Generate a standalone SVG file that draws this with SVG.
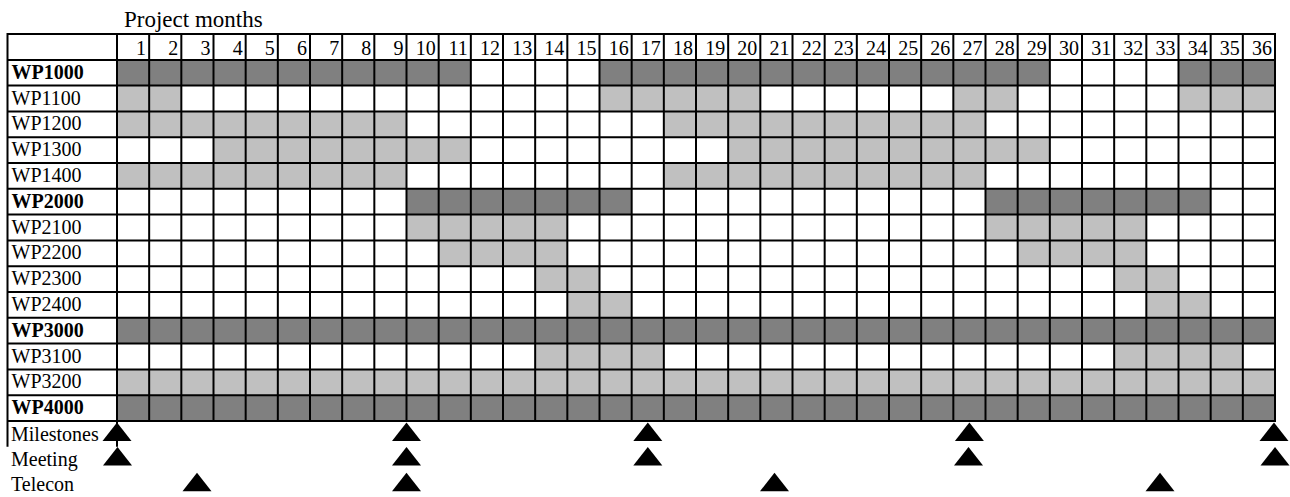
<svg xmlns="http://www.w3.org/2000/svg" width="1290" height="497" viewBox="0 0 1290 497">
<style>
text{font-family:"Liberation Serif","Times New Roman",serif;fill:#000}
.t{font-size:23px}
.n{font-size:20px;text-anchor:end}
.l{font-size:20px}
.b{font-weight:bold}
.d{fill:#808080}
.g{fill:#c0c0c0}
.grid{stroke:#000;stroke-width:2;fill:none}
</style>
<defs>
<path id="tri" d="M0,0 L14.5,18.5 L-14.5,18.5 Z" fill="#000"/>
</defs>
<rect width="1290" height="497" fill="#fff"/>
<text class="t" x="124" y="27">Project months</text>

<g id="fills">
<g id="r-WP1000" class="d"><rect x="117" y="60" width="353.83" height="25.6"/><rect x="599.5" y="60" width="450.33" height="25.6"/><rect x="1178.5" y="60" width="96.5" height="25.6"/></g>
<g id="r-WP1100" class="g"><rect x="117" y="85.6" width="64.33" height="25.8"/><rect x="599.5" y="85.6" width="160.83" height="25.8"/><rect x="953.33" y="85.6" width="64.33" height="25.8"/><rect x="1178.5" y="85.6" width="96.5" height="25.8"/></g>
<g id="r-WP1200" class="g"><rect x="117" y="111.4" width="289.5" height="25.8"/><rect x="663.83" y="111.4" width="321.67" height="25.8"/></g>
<g id="r-WP1300" class="g"><rect x="213.5" y="137.2" width="257.33" height="25.8"/><rect x="728.17" y="137.2" width="321.67" height="25.8"/></g>
<g id="r-WP1400" class="g"><rect x="117" y="163" width="289.5" height="25.8"/><rect x="663.83" y="163" width="321.67" height="25.8"/></g>
<g id="r-WP2000" class="d"><rect x="406.5" y="188.8" width="225.17" height="25.8"/><rect x="985.5" y="188.8" width="225.17" height="25.8"/></g>
<g id="r-WP2100" class="g"><rect x="406.5" y="214.6" width="160.83" height="25.8"/><rect x="985.5" y="214.6" width="160.83" height="25.8"/></g>
<g id="r-WP2200" class="g"><rect x="438.67" y="240.4" width="128.67" height="25.8"/><rect x="1017.67" y="240.4" width="128.67" height="25.8"/></g>
<g id="r-WP2300" class="g"><rect x="535.17" y="266.2" width="64.33" height="25.8"/><rect x="1114.17" y="266.2" width="64.33" height="25.8"/></g>
<g id="r-WP2400" class="g"><rect x="567.33" y="292" width="64.33" height="25.8"/><rect x="1146.33" y="292" width="64.33" height="25.8"/></g>
<g id="r-WP3000" class="d"><rect x="117" y="317.8" width="1158" height="25.8"/></g>
<g id="r-WP3100" class="g"><rect x="535.17" y="343.6" width="128.67" height="25.8"/><rect x="1114.17" y="343.6" width="128.67" height="25.8"/></g>
<g id="r-WP3200" class="g"><rect x="117" y="369.4" width="1158" height="25.8"/></g>
<g id="r-WP4000" class="d"><rect x="117" y="395.2" width="1158" height="25.8"/></g>
</g>

<g id="gridlines" class="grid">
<path d="M7.5,34H1275 M7.5,60H1275 M7.5,85.6H1275 M7.5,111.4H1275 M7.5,137.2H1275 M7.5,163H1275 M7.5,188.8H1275 M7.5,214.6H1275 M7.5,240.4H1275 M7.5,266.2H1275 M7.5,292H1275 M7.5,317.8H1275 M7.5,343.6H1275 M7.5,369.4H1275 M7.5,395.2H1275 M7.5,421H1275"/>
<path d="M7.5,33V446.8 M117,34V446.8"/>
<path d="M149.17,34V421 M181.33,34V421 M213.5,34V421 M245.67,34V421 M277.83,34V421 M310,34V421 M342.17,34V421 M374.33,34V421 M406.5,34V421 M438.67,34V421 M470.83,34V421 M503,34V421 M535.17,34V421 M567.33,34V421 M599.5,34V421 M631.67,34V421 M663.83,34V421 M696,34V421 M728.17,34V421 M760.33,34V421 M792.5,34V421 M824.67,34V421 M856.83,34V421 M889,34V421 M921.17,34V421 M953.33,34V421 M985.5,34V421 M1017.67,34V421 M1049.83,34V421 M1082,34V421 M1114.17,34V421 M1146.33,34V421 M1178.5,34V421 M1210.67,34V421 M1242.83,34V421 M1275,33V422"/>
</g>

<g id="months">
<text class="n" x="146" y="55">1</text><text class="n" x="178.3" y="55">2</text><text class="n" x="210.5" y="55">3</text><text class="n" x="242.7" y="55">4</text><text class="n" x="274.8" y="55">5</text><text class="n" x="307" y="55">6</text><text class="n" x="339.2" y="55">7</text><text class="n" x="371.3" y="55">8</text><text class="n" x="403.5" y="55">9</text><text class="n" x="435.7" y="55">10</text><text class="n" x="467.8" y="55">11</text><text class="n" x="500" y="55">12</text><text class="n" x="532.2" y="55">13</text><text class="n" x="564.3" y="55">14</text><text class="n" x="596.5" y="55">15</text><text class="n" x="628.7" y="55">16</text><text class="n" x="660.8" y="55">17</text><text class="n" x="693" y="55">18</text><text class="n" x="725.2" y="55">19</text><text class="n" x="757.3" y="55">20</text><text class="n" x="789.5" y="55">21</text><text class="n" x="821.7" y="55">22</text><text class="n" x="853.8" y="55">23</text><text class="n" x="886" y="55">24</text><text class="n" x="918.2" y="55">25</text><text class="n" x="950.3" y="55">26</text><text class="n" x="982.5" y="55">27</text><text class="n" x="1014.7" y="55">28</text><text class="n" x="1046.8" y="55">29</text><text class="n" x="1079" y="55">30</text><text class="n" x="1111.2" y="55">31</text><text class="n" x="1143.3" y="55">32</text><text class="n" x="1175.5" y="55">33</text><text class="n" x="1207.7" y="55">34</text><text class="n" x="1239.8" y="55">35</text><text class="n" x="1272" y="55">36</text>
</g>

<g id="labels">
<text class="l b" x="11.5" y="79">WP1000</text>
<text class="l" x="11.5" y="104.5">WP1100</text>
<text class="l" x="11.5" y="130.3">WP1200</text>
<text class="l" x="11.5" y="156.1">WP1300</text>
<text class="l" x="11.5" y="181.9">WP1400</text>
<text class="l b" x="11.5" y="207.7">WP2000</text>
<text class="l" x="11.5" y="233.5">WP2100</text>
<text class="l" x="11.5" y="259.3">WP2200</text>
<text class="l" x="11.5" y="285.1">WP2300</text>
<text class="l" x="11.5" y="310.9">WP2400</text>
<text class="l b" x="11.5" y="336.7">WP3000</text>
<text class="l" x="11.5" y="362.5">WP3100</text>
<text class="l" x="11.5" y="388.3">WP3200</text>
<text class="l b" x="11.5" y="414.1">WP4000</text>
<text class="l" x="11" y="441">Milestones</text>
<text class="l" x="11" y="465.5">Meeting</text>
<text class="l" x="11" y="491">Telecon</text>
</g>

<g id="milestones">
<use href="#tri" x="117" y="422.5"/><use href="#tri" x="406.5" y="422.5"/><use href="#tri" x="647.8" y="422.5"/><use href="#tri" x="969.4" y="422.5"/><use href="#tri" x="1274" y="422.5"/>
</g>
<g id="meetings">
<use href="#tri" x="117.5" y="447"/><use href="#tri" x="406.5" y="447"/><use href="#tri" x="647.8" y="447"/><use href="#tri" x="968.5" y="447"/><use href="#tri" x="1275" y="447"/>
</g>
<g id="telecons">
<use href="#tri" x="197" y="472.7"/><use href="#tri" x="406.5" y="472.7"/><use href="#tri" x="774.5" y="472.7"/><use href="#tri" x="1160" y="472.7"/>
</g>
</svg>
